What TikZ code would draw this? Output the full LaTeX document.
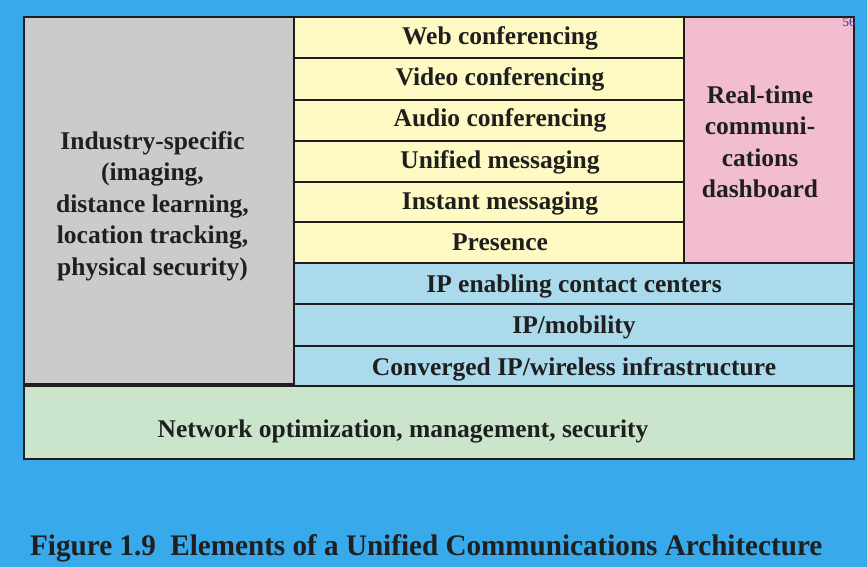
\documentclass[tikz,border=0pt]{standalone}
\usepackage{fontspec}
\setmainfont{Liberation Serif}
\definecolor{bgblue}{HTML}{38A9EA}
\definecolor{cgray}{HTML}{CBCBCB}
\definecolor{cyellow}{HTML}{FFFAC3}
\definecolor{cpink}{HTML}{F2BDD0}
\definecolor{cblue}{HTML}{AADAEC}
\definecolor{cgreen}{HTML}{CAE5CC}
\definecolor{cborder}{HTML}{1E1E1E}
\definecolor{ctext}{HTML}{1F1F1F}
\definecolor{cpage}{HTML}{1F3A8F}
\tikzset{
  cell/.style={draw=cborder, line width=2.4pt, inner sep=0pt, outer sep=0pt, rectangle},
  lbl/.style={inner sep=0pt, outer sep=0pt, text=ctext, font=\fontsize{25.5}{31.5}\selectfont\bfseries, align=center},
}
\begin{document}
\begin{tikzpicture}[x=1pt,y=-1pt]
\fill[bgblue] (0,0) rectangle (867,567);
\useasboundingbox (0,0) rectangle (867,567);
% boxes
\node[cell, fill=cgray, minimum width=270pt, minimum height=367pt] (gray) at (159,200.5) {};
\node[cell, fill=cpink, minimum width=170pt, minimum height=246pt] (pink) at (769,140) {};
\node[cell, fill=cyellow, minimum width=390pt, minimum height=41pt] (y1) at (489,37.5) {};
\node[cell, fill=cyellow, minimum width=390pt, minimum height=41.5pt] (y2) at (489,79) {};
\node[cell, fill=cyellow, minimum width=390pt, minimum height=41pt] (y3) at (489,120.5) {};
\node[cell, fill=cyellow, minimum width=390pt, minimum height=41pt] (y4) at (489,161.5) {};
\node[cell, fill=cyellow, minimum width=390pt, minimum height=40pt] (y5) at (489,202) {};
\node[cell, fill=cyellow, minimum width=390pt, minimum height=41pt] (y6) at (489,242.5) {};
\node[cell, fill=cblue, minimum width=560pt, minimum height=41pt] (b1) at (574,283.5) {};
\node[cell, fill=cblue, minimum width=560pt, minimum height=42pt] (b2) at (574,325) {};
\node[cell, fill=cblue, minimum width=560pt, minimum height=40pt] (b3) at (574,366) {};
\node[cell, fill=cgreen, minimum width=830pt, minimum height=73pt] (green) at (439,422.5) {};
% labels
\node[lbl, anchor=center] (tgray) at (152.5,206) {Industry-specific\\(imaging,\\distance learning,\\location tracking,\\physical security)};
\node[lbl, anchor=center] (tpink) at (760,142) {Real-time\\communi-\\cations\\dashboard};
\node[lbl, anchor=base] (t1) at (500,45) {Web conferencing};
\node[lbl, anchor=base] (t2) at (500,86) {Video conferencing};
\node[lbl, anchor=base] (t3) at (500,127) {Audio conferencing};
\node[lbl, anchor=base] (t4) at (500,168) {Unified messaging};
\node[lbl, anchor=base] (t5) at (500,209) {Instant messaging};
\node[lbl, anchor=base] (t6) at (500,250) {Presence};
\node[lbl, anchor=base] (t7) at (574,292) {IP enabling contact centers};
\node[lbl, anchor=base] (t8) at (574,333) {IP/mobility};
\node[lbl, anchor=base] (t9) at (574,375) {Converged IP/wireless infrastructure};
\node[lbl, anchor=base] (t10) at (403,437) {Network optimization, management, security};
\node[inner sep=0pt, anchor=base, text=cpage, font=\fontsize{13}{13}\selectfont] (page) at (849,27) {56};
% caption
\node[inner sep=0pt, anchor=base west, text=ctext] (cap) at (30,555) {\resizebox{792pt}{21pt}{\bfseries Figure 1.9\ \ Elements of a Unified Communications Architecture}};
\end{tikzpicture}
\end{document}
